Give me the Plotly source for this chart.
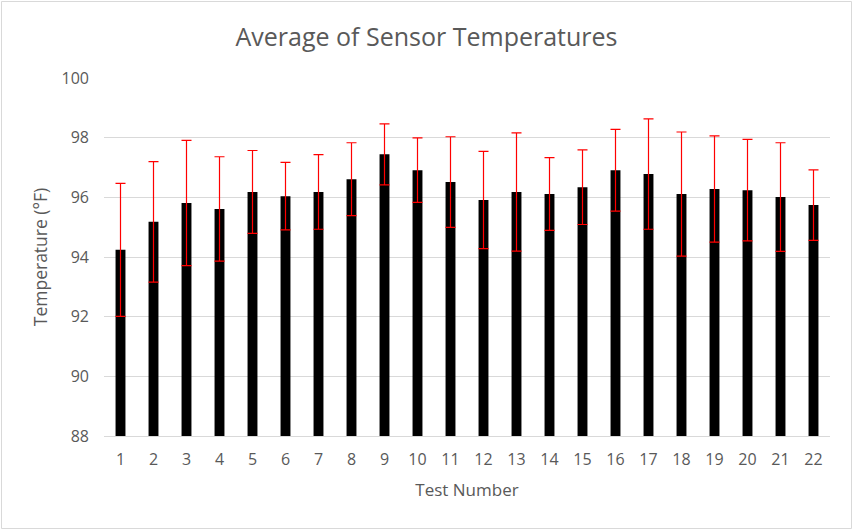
import plotly.graph_objects as go

tests = [str(i) for i in range(1, 23)]
avg_temp = [94.24, 95.18, 95.81, 95.61, 96.18, 96.04, 96.18, 96.61, 97.44, 96.91, 96.51,
            95.91, 96.18, 96.11, 96.34, 96.91, 96.78, 96.11, 96.28, 96.24, 96.01, 95.74]
err = [2.23, 2.02, 2.10, 1.75, 1.39, 1.13, 1.25, 1.22, 1.02, 1.08, 1.52,
       1.63, 1.98, 1.22, 1.25, 1.37, 1.85, 2.08, 1.78, 1.70, 1.82, 1.18]

W, H = 853, 530
ML, MR, MT, MB = 104, 23, 78, 94
FONT = "'Open Sans', Lato, sans-serif"
GRAY = "#595959"

fig = go.Figure(go.Bar(
    x=tests, y=avg_temp,
    marker=dict(color="black", line=dict(width=0)),
    error_y=dict(type="data", array=err, symmetric=True, color="#ff0000",
                 thickness=1.2, width=5),
))

pw = W - ML - MR
ph = H - MT - MB
fig.add_shape(type="rect", xref="paper", yref="paper",
              x0=-(ML - 1.5) / pw, x1=1 + (MR - 1.5) / pw,
              y0=-(MB - 1.5) / ph, y1=1 + (MT - 1.5) / ph,
              line=dict(color="#d9d9d9", width=1), layer="below")

fig.update_layout(
    width=W, height=H,
    margin=dict(l=ML, r=MR, t=MT, b=MB),
    paper_bgcolor="white", plot_bgcolor="white",
    bargap=0.7,
    showlegend=False,
    font=dict(family=FONT, color=GRAY, size=16),
    title=dict(text="Average of Sensor Temperatures", x=0.5, xref="container",
               xanchor="center", y=1 - 37 / H, yanchor="middle",
               font=dict(family=FONT, size=25, color=GRAY)),
    xaxis=dict(type="category", showgrid=False, showline=True, linecolor="#d9d9d9",
               linewidth=1, ticks="", ticklabelstandoff=9,
               tickfont=dict(size=16, color=GRAY),
               title=dict(text="Test Number", font=dict(size=17, color=GRAY), standoff=14)),
    yaxis=dict(range=[88, 100], dtick=2, showgrid=True, gridcolor="#d9d9d9", gridwidth=1,
               zeroline=False, showline=False, ticks="", ticklabelstandoff=14,
               tickfont=dict(size=16, color=GRAY),
               title=dict(text="Temperature (°F)", font=dict(size=17.5, color=GRAY), standoff=9)),
)

fig.write_html("out.html", config={"displayModeBar": False},
               post_script="document.body.style.margin='0px';")
